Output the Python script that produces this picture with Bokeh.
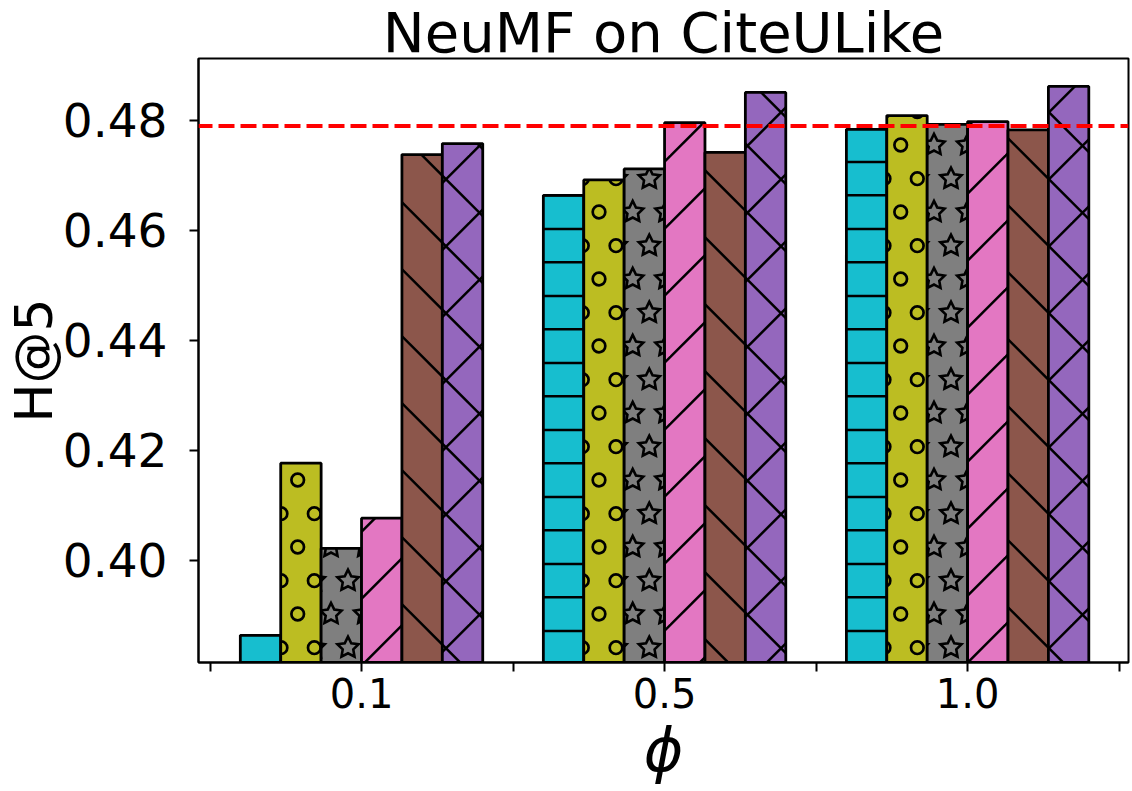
import math
import base64
from bokeh.plotting import figure
from bokeh.models import ColumnDataSource, Range1d, FixedTicker, Span, ImageURLTexture
from bokeh.embed import file_html
from bokeh.resources import INLINE

# ---------------- data ----------------
phis = ["0.1", "0.5", "1.0"]
h_cyan = [0.3864, 0.4664, 0.4784]
h_olive = [0.4177, 0.4692, 0.4809]
h_gray = [0.4022, 0.4712, 0.4793]
h_pink = [0.4077, 0.4796, 0.4798]
h_brown = [0.4738, 0.4742, 0.4783]
h_purple = [0.4758, 0.4851, 0.4862]
reference_value = 0.479
ytick_values = [0.40, 0.42, 0.44, 0.46, 0.48]
ytick_labels = ["0.40", "0.42", "0.44", "0.46", "0.48"]

series = [h_cyan, h_olive, h_gray, h_pink, h_brown, h_purple]
colors = ["#17becf", "#bcbd22", "#7f7f7f", "#e377c2", "#8c564b", "#9467bd"]
patterns = ["hlines", "rings", "stars", "fwd", "back", "cross"]

FONT = "DejaVu Sans"

# ---------------- hatch tiles (matplotlib-like '-', 'o', '*', '/', '\\', 'x') ----------------
TILE = 67
LATTICE = [(13, 44.7), (46.3, 44.7), (29.7, 11), (63, 11)]
HLINE_Y = [28, 61.3]
FWD_C = 22.3
BACK_C = -1.3


def tile_uri(body, sw):
    svg = ("<svg xmlns='http://www.w3.org/2000/svg' width='%d' height='%d'>"
           "<g fill='none' stroke='black' stroke-width='%s'>%s</g></svg>") % (TILE, TILE, sw, body)
    return "data:image/svg+xml;base64," + base64.b64encode(svg.encode()).decode()


def wrapped(pt):
    for i in (-1, 0, 1):
        for j in (-1, 0, 1):
            yield pt[0] + i * TILE, pt[1] + j * TILE


def line(x1, y1, x2, y2):
    return "<line x1='%.2f' y1='%.2f' x2='%.2f' y2='%.2f'/>" % (x1, y1, x2, y2)


def star_points(cx, cy, R=11.1, r=5.55):
    out = []
    for k in range(10):
        a = math.pi / 2 + k * math.pi / 5
        rr = R if k % 2 == 0 else r
        out.append("%.2f,%.2f" % (cx + rr * math.cos(a), cy - rr * math.sin(a)))
    return " ".join(out)


T = TILE
hline_body = "".join(line(-2, y, T + 2, y) for y in HLINE_Y)
fwd_body = "".join(line(FWD_C + k * T + T, -T, FWD_C + k * T - 2 * T, 2 * T) for k in range(-1, 3))
back_body = "".join(line(BACK_C + k * T - T, -T, BACK_C + k * T + 2 * T, 2 * T) for k in range(-1, 3))
ring_body = "".join("<circle cx='%.2f' cy='%.2f' r='6.3'/>" % c for pt in LATTICE for c in wrapped(pt))
star_body = "".join("<polygon points='%s'/>" % star_points(*c) for pt in LATTICE for c in wrapped(pt))

textures = {
    "hlines": ImageURLTexture(url=tile_uri(hline_body, 2.5)),
    "rings": ImageURLTexture(url=tile_uri(ring_body, 2.7)),
    "stars": ImageURLTexture(url=tile_uri(star_body, 2.6)),
    "fwd": ImageURLTexture(url=tile_uri(fwd_body, 2.5)),
    "back": ImageURLTexture(url=tile_uri(back_body, 2.5)),
    "cross": ImageURLTexture(url=tile_uri(fwd_body + back_body, 2.5)),
}

# ---------------- bars table ----------------
n = len(series)
bar_w = 0.8 / n
xs, tops, fills, hatches = [], [], [], []
for si, vals in enumerate(series):
    for gi, v in enumerate(vals):
        xs.append(gi + (si - (n - 1) / 2) * bar_w)
        tops.append(v)
        fills.append(colors[si])
        hatches.append(patterns[si])
src = ColumnDataSource(dict(x=xs, top=tops, fill=fills, hatch=hatches))

# ---------------- figure ----------------
p = figure(width=1132, height=791, output_backend="svg", toolbar_location=None,
           x_range=Range1d(-0.538, 2.531), y_range=Range1d(0.38145, 0.49127),
           min_border_left=198, min_border_right=4, min_border_top=58, min_border_bottom=129)
p.background_fill_color = "white"
p.border_fill_color = "white"
p.outline_line_color = "black"
p.outline_line_width = 2
p.xgrid.visible = False
p.ygrid.visible = False

p.vbar(x="x", top="top", bottom=0, width=bar_w, source=src,
       fill_color="fill", line_color="black", line_width=2.8,
       hatch_pattern="hatch", hatch_color="black", hatch_scale=TILE, hatch_weight=2,
       hatch_extra=textures)

p.add_layout(Span(location=reference_value, dimension="width", line_color="red",
                  line_width=4, line_dash="16 6", line_dash_offset=2))

# title
p.title.text = "NeuMF on CiteULike"
p.title.align = "center"
p.title.text_font = FONT
p.title.text_font_size = "56px"
p.title.text_font_style = "normal"
p.title.text_color = "black"
p.title.standoff = -12

# axes
gpos = list(range(len(phis)))
p.xaxis.ticker = FixedTicker(ticks=gpos, minor_ticks=[g - 0.5 for g in range(len(phis) + 1)])
p.xaxis.major_label_overrides = {g: phis[g] for g in gpos}
p.yaxis.ticker = FixedTicker(ticks=ytick_values, minor_ticks=[])
p.yaxis.major_label_overrides = {v: lab for v, lab in zip(ytick_values, ytick_labels)}

for ax in (p.xaxis[0], p.yaxis[0]):
    ax.axis_line_color = "black"
    ax.axis_line_width = 2
    ax.major_tick_line_color = "black"
    ax.major_tick_line_width = 2
    ax.minor_tick_line_color = "black"
    ax.minor_tick_line_width = 2
    ax.major_tick_in = 0
    ax.major_tick_out = 9
    ax.minor_tick_in = 0
    ax.minor_tick_out = 9
    ax.major_label_text_font = FONT
    ax.major_label_text_color = "black"
    ax.axis_label_text_font = FONT
    ax.axis_label_text_color = "black"

p.xaxis.major_label_text_font_size = "40px"
p.xaxis.major_label_standoff = 6
p.xaxis.axis_label = "\u03d5"
p.xaxis.axis_label_text_font_size = "60px"
p.xaxis.axis_label_text_font_style = "italic"
p.xaxis.axis_label_standoff = 4

p.yaxis.major_label_text_font_size = "47px"
p.yaxis.major_label_standoff = 22
p.yaxis.axis_label = "H@5"
p.yaxis.axis_label_text_font_size = "52px"
p.yaxis.axis_label_text_font_style = "normal"
p.yaxis.axis_label_standoff = -4

open("out.html", "w").write(file_html(p, INLINE))
